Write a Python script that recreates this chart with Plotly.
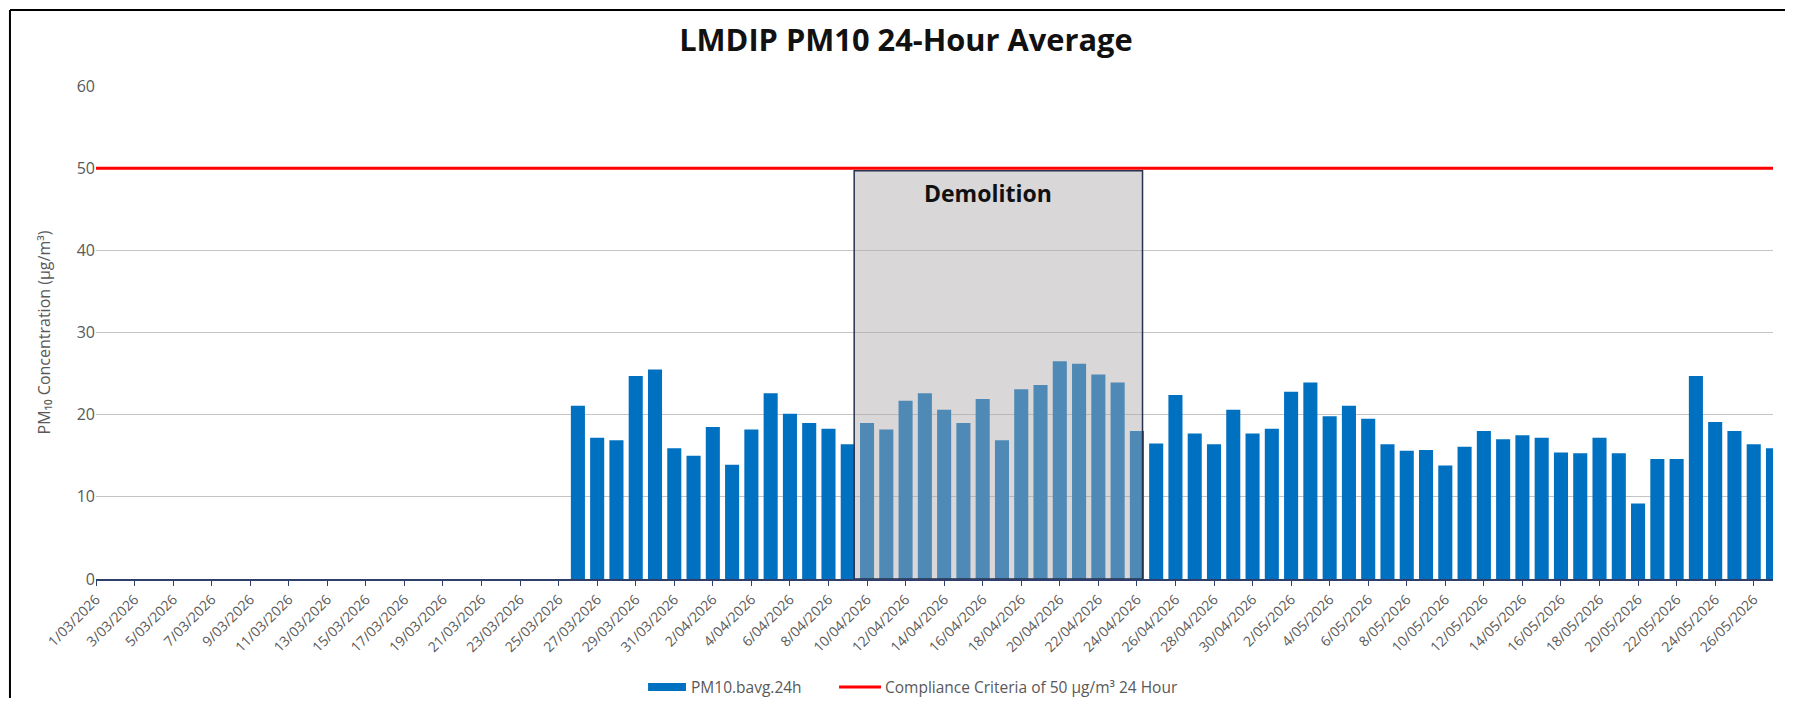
import pandas as pd
import plotly.graph_objects as go

# PM10 24-hour averages (first reading 26/03/2026)
first_day = '2026-03-26'
pm10 = [21.1, 17.2, 16.9, 24.7, 25.5, 15.9,                       # 26-31 Mar
        15.0, 18.5, 13.9, 18.2, 22.6, 20.1, 19.0, 18.3, 16.4, 19.0,  # 1-10 Apr
        18.2, 21.7, 22.6, 20.6, 19.0, 21.9, 16.9, 23.1, 23.6, 26.5,  # 11-20 Apr
        26.2, 24.9, 23.9, 18.0, 16.5, 22.4, 17.7, 16.4, 20.6, 17.7,  # 21-30 Apr
        18.3, 22.8, 23.9, 19.8, 21.1, 19.5, 16.4, 15.6, 15.7, 13.8,  # 1-10 May
        16.1, 18.0, 17.0, 17.5, 17.2, 15.4, 15.3, 17.2, 15.3, 9.2,   # 11-20 May
        14.6, 14.6, 24.7, 19.1, 18.0, 16.4, 15.9]                  # 21-27 May
axis_start, axis_end = '2026-03-01', '2026-05-27'
limit = 50
demolition_start, demolition_end = '2026-04-09 08:00', '2026-04-24 07:00'
demolition_top = 49.7
bar_name = 'PM10.bavg.24h'
limit_name = 'Compliance Criteria of 50 µg/m³ 24 Hour'

dates = pd.date_range(first_day, periods=len(pm10), freq='D')
BLUE = '#0070C0'
RED = '#FF0000'
GREY_TXT = '#595959'

fig = go.Figure()
fig.add_trace(go.Bar(
    x=dates, y=pm10, name=bar_name,
    marker=dict(color=BLUE, line=dict(width=0)),
    width=0.73 * 86400000,
))
fig.add_trace(go.Scatter(
    x=[axis_start, axis_end], y=[limit, limit], mode='lines',
    name=limit_name, line=dict(color=RED, width=3),
))

# grey "Demolition" box laid over the bars
fig.add_shape(type='rect', xref='x', yref='y',
              x0=demolition_start, x1=demolition_end, y0=0, y1=demolition_top,
              fillcolor='rgba(172,168,170,0.46)',
              line=dict(color='#27324F', width=1.5), layer='above')
fig.add_annotation(x='2026-04-16 07:00', y=47.0, xref='x', yref='y',
                   text='<b>Demolition</b>', showarrow=False,
                   font=dict(family='Open Sans', size=23, color='#111111'))

# outer frame of the original picture: only left and top edges are visible
fig.add_shape(type='line', xref='paper', yref='paper',
              x0=-0.0513, x1=-0.0513, y0=-0.4, y1=1.154,
              line=dict(color='black', width=2))
fig.add_shape(type='line', xref='paper', yref='paper',
              x0=-0.0513, x1=1.05, y0=1.154, y1=1.154,
              line=dict(color='black', width=2))

# Excel-style legend under the axis: wide blue block, red line, labels
leg_y = -0.219
fig.add_shape(type='rect', xref='paper', yref='paper',
              x0=0.3292, x1=0.3518, y0=leg_y - 0.008, y1=leg_y + 0.008,
              fillcolor=BLUE, line=dict(width=0))
fig.add_shape(type='line', xref='paper', yref='paper',
              x0=0.4431, x1=0.4681, y0=leg_y, y1=leg_y,
              line=dict(color=RED, width=3))
for x, txt in [(0.3536, bar_name), (0.4693, limit_name)]:
    fig.add_annotation(x=x, y=leg_y, xref='paper', yref='paper', text=txt,
                       showarrow=False, xanchor='left', yanchor='middle',
                       font=dict(family='Open Sans', size=15.5, color=GREY_TXT))

# the page body adds an 8px margin; keep the figure inside the window
fig.update_layout(
    width=1777, height=690,
    margin=dict(l=88, r=12, t=78, b=119),
    paper_bgcolor='white', plot_bgcolor='white',
    font=dict(family='Open Sans', color=GREY_TXT, size=13),
    title=dict(text='<b>LMDIP PM10 24-Hour Average</b>', x=0.5053, xanchor='center',
               xref='container', y=0.9536, yanchor='middle',
               font=dict(family='Open Sans', size=30.8, color='#111111')),
    showlegend=False,
    bargap=0.27,
)
fig.update_xaxes(
    type='date', range=[axis_start, axis_end],
    tickformat='%-d/%m/%Y', dtick=2 * 86400000, tick0=axis_start,
    tickangle=-45, tickfont=dict(size=14, color=GREY_TXT),
    showgrid=False, showline=True, linecolor='#2F3E6B', linewidth=1.5,
    ticks='outside', ticklen=5, tickcolor='#2F3E6B',
)
fig.update_yaxes(
    range=[0, 60], dtick=10, showgrid=True, gridcolor='#C4C4C4', gridwidth=1.3,
    zeroline=False, showline=False, ticks='', tickfont=dict(size=16, color=GREY_TXT),
    title=dict(text='PM₁₀ Concentration (µg/m³)', font=dict(size=16, color=GREY_TXT),
               standoff=22),
)

fig.write_html('out.html')
